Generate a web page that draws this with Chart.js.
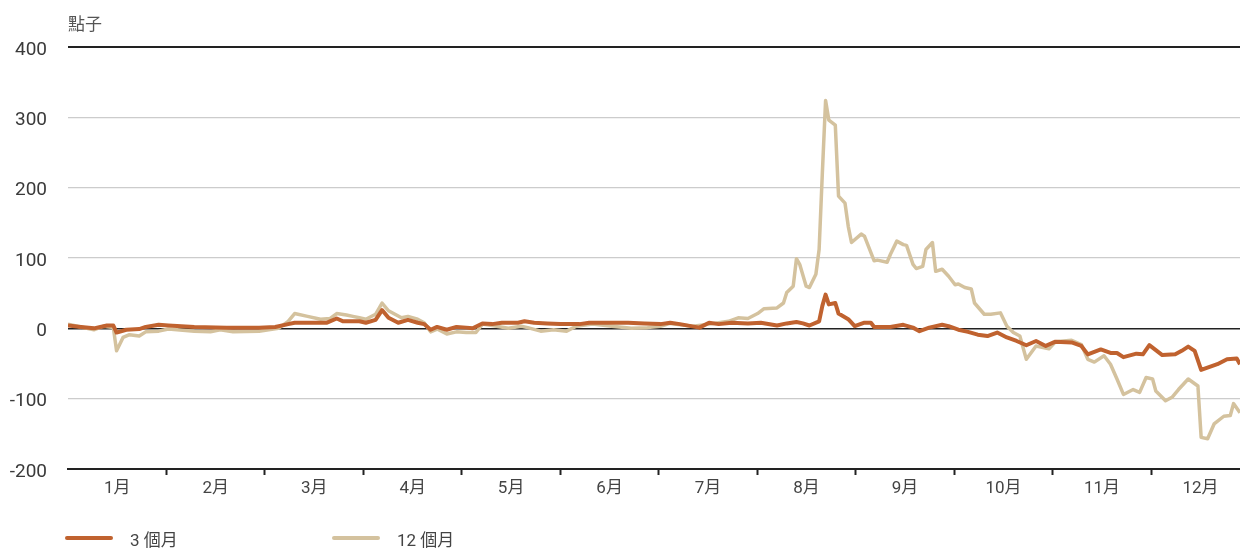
<!DOCTYPE html>
<html lang="zh-Hant">
<head>
<meta charset="utf-8">
<title>點子</title>
<script src="https://cdn.jsdelivr.net/npm/chart.js@4.4.1/dist/chart.umd.min.js"></script>
<style>
  body { margin: 0; background: #fff; }
  #wrap { position: relative; width: 1240px; height: 548px; }
  #legend {
    position: absolute; left: 65px; top: 528px; display: flex;
    font: 17px Roboto, "Noto Sans CJK TC", sans-serif; color: #444;
  }
  .item { display: flex; align-items: center; width: 267px; height: 20px; }
  .swatch { width: 48px; height: 4px; border-radius: 2px; margin-right: 17px; }
</style>
</head>
<body>
<div id="wrap">
  <canvas id="myChart" width="1240" height="548"></canvas>
  <div id="legend"></div>
</div>
<script>
const unitText = '點子';
const seriesNames = ['3 個月', '12 個月'];
const monthLabels = ['1月', '2月', '3月', '4月', '5月', '6月', '7月', '8月', '9月', '10月', '11月', '12月'];
const yMin = -200, yMax = 400, yStep = 100;

// día del año (0 = 1 de enero)
const days3m = [0, 4, 8, 10, 12, 14, 15, 18, 22, 24, 28, 31, 39, 49, 59, 64, 68, 70, 76, 80,
  83, 85, 88, 90, 92, 95, 97, 99, 102, 105, 108, 110, 112, 114, 117, 120, 123, 125, 128, 131,
  134, 139, 141, 144, 148, 152, 156, 158, 161, 164, 173, 178, 183, 186, 189, 195, 198, 201, 205, 210,
  214, 219, 222, 225, 227, 229, 232, 233, 234, 235, 237, 238, 241, 243, 246, 248, 249, 254, 258, 261,
  263, 266, 270, 272, 275, 278, 281, 284, 287, 290, 293, 296, 299, 302, 305, 310, 313, 315, 319, 322,
  324, 326, 330, 332, 334, 338, 342, 344, 346, 348, 350, 355, 358, 361, 362];
const vals3m = [4, 2, 0, 2, 4, 4, -6, -2, -1, 2, 5, 4, 2, 1, 1, 2, 6, 8, 8, 8,
  14, 10, 10, 10, 8, 12, 26, 15, 8, 12, 8, 6, -2, 2, -2, 2, 1, 0, 7, 6,
  8, 8, 10, 8, 7, 6, 6, 6, 8, 8, 8, 7, 6, 8, 6, 1, 8, 6, 8, 7,
  8, 4, 7, 9, 7, 4, 10, 32, 48, 34, 36, 21, 13, 3, 8, 8, 2, 2, 5, 1,
  -4, 1, 5, 3, -2, -5, -9, -11, -6, -13, -18, -24, -18, -25, -19, -20, -25, -37, -30, -35,
  -35, -41, -36, -37, -24, -38, -37, -32, -26, -32, -59, -51, -44, -43, -51];

const days12m = [0, 4, 8, 11, 14, 15, 17, 19, 22, 24, 28, 31, 39, 44, 47, 51, 59, 65, 68, 70,
  74, 78, 81, 83, 86, 88, 90, 92, 95, 97, 99, 103, 105, 108, 110, 112, 114, 117, 120, 123,
  126, 128, 131, 136, 140, 142, 146, 150, 154, 157, 162, 168, 174, 179, 183, 186, 193, 198, 204, 207,
  210, 213, 215, 219, 221, 222, 224, 225, 226, 228, 229, 231, 232, 233, 234, 235, 237, 238, 240, 241,
  242, 245, 246, 249, 250, 253, 254, 256, 258, 259, 261, 262, 264, 265, 267, 268, 270, 272, 274, 275,
  277, 279, 280, 283, 285, 288, 290, 292, 294, 296, 299, 303, 305, 310, 313, 315, 317, 320, 322, 324,
  326, 329, 331, 333, 335, 336, 339, 341, 343, 346, 349, 350, 352, 354, 357, 359, 360, 362];
const vals12m = [6, 2, -2, 3, 1, -32, -13, -9, -11, -5, -4, -1, -4, -5, -2, -5, -4, 0, 10, 21,
  17, 13, 14, 21, 19, 17, 15, 13, 20, 36, 25, 15, 17, 13, 8, -5, -1, -8, -5, -6,
  -6, 6, 4, 0, 3, 1, -4, -2, -4, 3, 6, 3, 0, 1, 3, 7, 3, 6, 10, 15,
  14, 21, 28, 29, 36, 51, 60, 99, 91, 60, 58, 77, 112, 221, 324, 296, 289, 188, 178, 145,
  122, 134, 131, 96, 97, 94, 105, 124, 119, 118, 91, 85, 88, 112, 122, 81, 84, 74, 62, 63,
  58, 56, 36, 20, 20, 22, 3, -6, -11, -44, -25, -29, -19, -17, -23, -44, -48, -39, -51, -72,
  -94, -87, -91, -70, -72, -89, -103, -98, -87, -72, -82, -155, -157, -136, -125, -124, -107, -120];

const monthLen = 365 / 12;
const isLabelTick = v => Math.abs((v / monthLen) % 1 - 0.5) < 0.01;

const unitLabel = {
  id: 'unitLabel',
  afterDraw(chart) {
    const { ctx, chartArea } = chart;
    ctx.save();
    ctx.font = '17px Roboto, "Noto Sans CJK TC"';
    ctx.fillStyle = '#555';
    ctx.textBaseline = 'middle';
    ctx.fillText(unitText, chartArea.left, chartArea.top - 21);
    ctx.restore();
  }
};

const chart = new Chart(document.getElementById('myChart'), {
  type: 'line',
  data: {
    datasets: [{
      label: seriesNames[0],
      data: days3m.map((d, i) => ({ x: d, y: vals3m[i] })),
      borderColor: '#c0622f',
      borderWidth: 4,
      pointRadius: 0,
      tension: 0,
      borderJoinStyle: 'round'
    }, {
      label: seriesNames[1],
      data: days12m.map((d, i) => ({ x: d, y: vals12m[i] })),
      borderColor: '#d4c29e',
      borderWidth: 3.5,
      pointRadius: 0,
      tension: 0,
      borderJoinStyle: 'round'
    }]
  },
  options: {
    responsive: false,
    animation: false,
    layout: { padding: { top: 47, bottom: 39, left: 0, right: 0 } },
    plugins: { legend: { display: false }, tooltip: { enabled: false } },
    scales: {
      x: {
        type: 'linear',
        min: 0,
        max: 362,
        afterFit: s => { s.height = 40; },
        afterBuildTicks: s => {
          const t = [];
          for (let k = 0; k < 12; k++) {
            if (k > 0) t.push({ value: k * monthLen });
            t.push({ value: (k + 0.5) * monthLen });
          }
          s.ticks = t;
        },
        ticks: {
          autoSkip: false,
          maxRotation: 0,
          minRotation: 0,
          padding: 4,
          color: '#444',
          font: { family: 'Roboto, "Noto Sans CJK TC"', size: 17 },
          callback: v => isLabelTick(v) ? monthLabels[Math.floor(v / monthLen)] : ''
        },
        grid: {
          drawOnChartArea: false,
          drawTicks: true,
          tickLength: 6,
          tickWidth: 2,
          tickColor: c => (c.tick && isLabelTick(c.tick.value)) ? 'rgba(0,0,0,0)' : '#222'
        },
        border: { display: true, color: '#222', width: 2 }
      },
      y: {
        min: yMin,
        max: yMax,
        afterFit: s => { s.width = 68; },
        ticks: {
          stepSize: yStep,
          padding: 21,
          labelOffset: 3,
          color: '#3a3a3a',
          font: { family: 'Roboto', size: 19 }
        },
        grid: {
          drawTicks: false,
          color: c => (c.tick.value === 0 || c.tick.value === yMax || c.tick.value === yMin) ? '#222' : '#cccccc',
          lineWidth: c => c.tick.value === yMax ? 2 : (c.tick.value === 0 ? 1.6 : 1.3)
        },
        border: { display: false }
      }
    }
  },
  plugins: [unitLabel]
});

// leyenda
const legend = document.getElementById('legend');
chart.data.datasets.forEach(ds => {
  const item = document.createElement('div');
  item.className = 'item';
  const sw = document.createElement('span');
  sw.className = 'swatch';
  sw.style.background = ds.borderColor;
  const txt = document.createElement('span');
  txt.textContent = ds.label;
  item.appendChild(sw);
  item.appendChild(txt);
  legend.appendChild(item);
});
</script>
</body>
</html>
